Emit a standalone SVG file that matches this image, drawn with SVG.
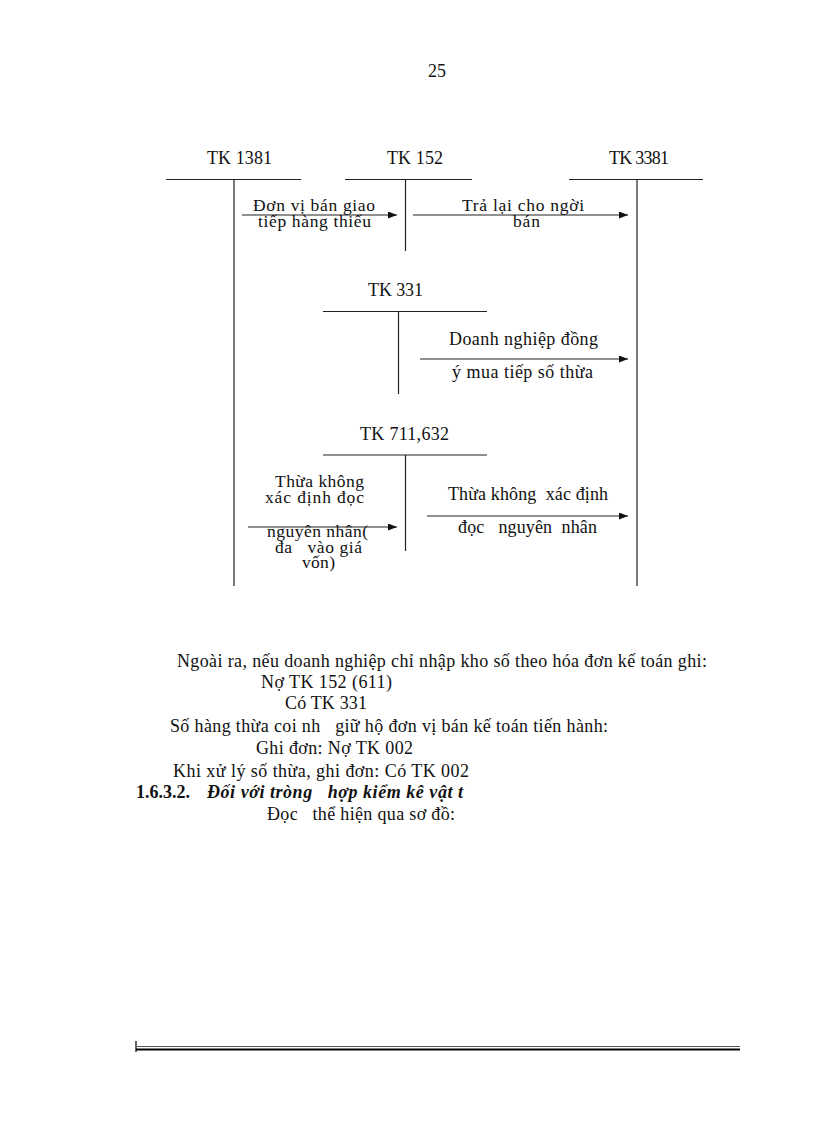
<svg xmlns="http://www.w3.org/2000/svg" width="816" height="1123" viewBox="0 0 816 1123">
<style>
text{font-family:"Liberation Serif","Times New Roman",serif;font-size:18px;fill:#111;white-space:pre}
.s{font-size:17.5px}
.ln{stroke:#222;stroke-width:1.2;fill:none}
.arr{stroke:#222;stroke-width:1.2;fill:none;marker-end:url(#ah)}
.b{font-weight:bold}
.bi{font-weight:bold;font-style:italic}
</style>
<defs>
<marker id="ah" markerUnits="userSpaceOnUse" markerWidth="9" markerHeight="7" refX="9" refY="3.5" orient="auto">
<path d="M0,0 L9,3.5 L0,7 z" fill="#111"/>
</marker>
</defs>
<rect width="816" height="1123" fill="#fff"/>
<text x="428" y="77">25</text>

<g id="tk1381">
<text x="207" y="164" textLength="65">TK 1381</text>
<line class="ln" x1="166" y1="179.5" x2="301" y2="179.5"/>
<line class="ln" x1="234" y1="179.5" x2="234" y2="586"/>
</g>
<g id="tk152">
<text x="387" y="164" textLength="56">TK 152</text>
<line class="ln" x1="345" y1="179.5" x2="472" y2="179.5"/>
<line class="ln" x1="405.5" y1="179.5" x2="405.5" y2="251"/>
</g>
<g id="tk3381">
<text x="609" y="164" textLength="60">TK 3381</text>
<line class="ln" x1="569" y1="179.5" x2="703" y2="179.5"/>
<line class="ln" x1="637" y1="179.5" x2="637" y2="586"/>
</g>
<g id="tk331">
<text x="368" y="296" textLength="55">TK 331</text>
<line class="ln" x1="323" y1="311.5" x2="487" y2="311.5"/>
<line class="ln" x1="398.5" y1="311.5" x2="398.5" y2="394"/>
</g>
<g id="tk711632">
<text x="360" y="440" textLength="89">TK 711,632</text>
<line class="ln" x1="323" y1="455" x2="487" y2="455"/>
<line class="ln" x1="405.5" y1="455" x2="405.5" y2="551"/>
</g>

<g id="connectors">
<line class="arr" x1="242" y1="215" x2="397" y2="215"/>
<line class="arr" x1="413" y1="215" x2="628" y2="215"/>
<line class="arr" x1="420" y1="359" x2="628" y2="359"/>
<line class="arr" x1="248" y1="527" x2="397" y2="527"/>
<line class="arr" x1="427" y1="516" x2="628" y2="516"/>
</g>

<g id="labels">
<text class="s" x="253" y="211" textLength="122">Đơn vị bán giao</text>
<text class="s" x="258" y="227" textLength="113">tiếp hàng thiếu</text>
<text class="s" x="462" y="211" textLength="122">Trả lại cho ngời</text>
<text class="s" x="513" y="227" textLength="27">bán</text>
<text x="449" y="345" textLength="149">Doanh nghiệp đồng</text>
<text x="452" y="378" textLength="141">ý mua tiếp số thừa</text>
<text class="s" x="275" y="487" textLength="89">Thừa không</text>
<text class="s" x="265" y="503" textLength="99">xác định đọc</text>
<text class="s" x="267" y="537" textLength="101">nguyên nhân(</text>
<text class="s" x="275" y="553" textLength="87">đa   vào giá</text>
<text class="s" x="302" y="568" textLength="33">vốn)</text>
<text x="448" y="500" textLength="160">Thừa không  xác định</text>
<text x="458" y="533" textLength="139">đọc   nguyên  nhân</text>
</g>

<g id="body">
<text x="177" y="667" textLength="530">Ngoài ra, nếu doanh nghiệp chỉ nhập kho số theo hóa đơn kế toán ghi:</text>
<text x="261" y="688" textLength="131">Nợ TK 152 (611)</text>
<text x="285" y="709" textLength="82">Có TK 331</text>
<text x="170" y="732" textLength="438">Số hàng thừa coi nh   giữ hộ đơn vị bán kế toán tiến hành:</text>
<text x="256" y="754" textLength="157">Ghi đơn: Nợ TK 002</text>
<text x="173" y="777" textLength="296">Khi xử lý số thừa, ghi đơn: Có TK 002</text>
<text x="136" y="798" class="b" textLength="54">1.6.3.2.</text>
<text x="207" y="798" class="bi" textLength="256">Đối với tròng   hợp kiểm kê vật t</text>
<text x="267" y="820" textLength="188">Đọc   thể hiện qua sơ đồ:</text>
</g>

<g id="footer">
<line x1="136" y1="1041" x2="136" y2="1052" stroke="#333" stroke-width="1.5"/>
<line x1="136" y1="1046.5" x2="740" y2="1046.5" stroke="#555" stroke-width="1"/>
<line x1="136" y1="1049.5" x2="740" y2="1049.5" stroke="#000" stroke-width="2.2"/>
</g>
</svg>
